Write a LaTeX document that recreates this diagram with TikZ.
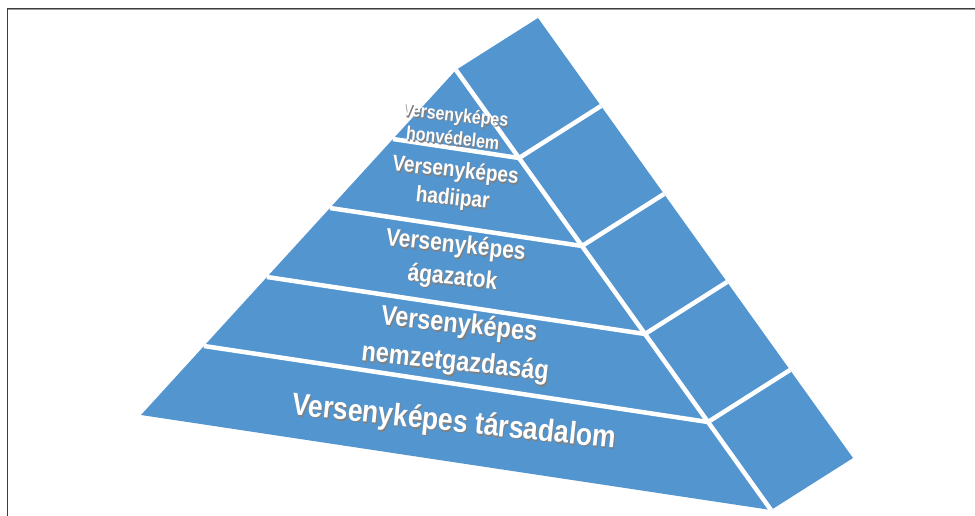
\documentclass[tikz,border=0pt]{standalone}
\usepackage{fontspec}
\setmainfont{Liberation Sans}
\definecolor{pyr}{RGB}{83,149,207}
\definecolor{framecol}{RGB}{60,60,60}
\newcommand\shtx[1]{\makebox[0pt][l]{\hspace{1.2pt}\raisebox{-1.3pt}{\textcolor{black!50}{#1}}}#1}
\tikzset{
  face/.style={fill=pyr, draw=none},
  gap/.style={draw=white, line width=4.5pt},
  lbl/.style={text=white, align=center, rotate=-6, yscale=1.18, inner sep=0pt, font=\bfseries},
}
\begin{document}
\begin{tikzpicture}[x=1pt,y=-1pt]
\useasboundingbox (0,0) rectangle (975,516);
% frame (cut off at right and bottom)
\draw[framecol, line width=1.3pt] (7.3,8.6) -- (975,8.6);
\draw[black!40, line width=0.8pt] (8,9.7) -- (975,9.7);
\draw[framecol, line width=1.3pt] (7.3,8) -- (7.3,516);
% geometry
\foreach \i in {0,...,5}{
  \coordinate (L\i) at ({456-63*\i},{70+69*\i});
  \coordinate (R\i) at ({456+63*\i},{70+88*\i});
  \coordinate (O\i) at ({538+63*\i},{18+88*\i});
}
% faces
\fill[face] (R0) -- (R5) -- (L5) -- cycle;
\fill[face] (R0) -- (O0) -- (O5) -- (R5) -- cycle;
% white gaps
\draw[gap] (R0) -- (R5);
\foreach \i in {1,...,4}{
  \draw[gap] (L\i) -- (R\i);
  \draw[gap] (R\i) -- (O\i);
}
% labels
\node[lbl, font=\bfseries\fontsize{16}{20}\selectfont] (t1) at (454,127) {\shtx{Versenyképes}\\\shtx{honvédelem}};
\node[lbl, font=\bfseries\fontsize{19}{23.5}\selectfont] (t2) at (454,186) {\shtx{Versenyképes}\\\shtx{hadiipar}};
\node[lbl, font=\bfseries\fontsize{21}{27.5}\selectfont] (t3) at (454,263) {\shtx{Versenyképes}\\\shtx{ágazatok}};
\node[lbl, font=\bfseries\fontsize{23.5}{32}\selectfont] (t4) at (457,345) {\shtx{Versenyképes}\\\shtx{nemzetgazdaság}};
\node[lbl, font=\bfseries\fontsize{26.5}{30}\selectfont] (t5) at (454,424) {\shtx{Versenyképes társadalom}};
\end{tikzpicture}
\end{document}
